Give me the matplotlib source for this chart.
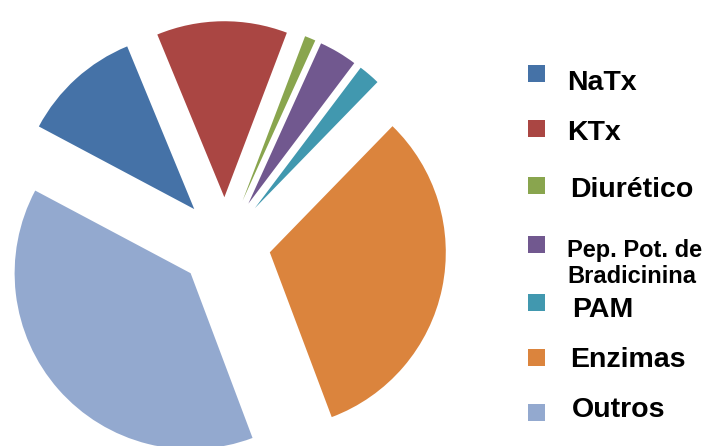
import matplotlib
matplotlib.use("Agg")
import matplotlib.pyplot as plt
from matplotlib.patches import Rectangle

# data (percent)
labels = ["NaTx", "KTx", "Diurético", "Pep. Pot. de\nBradicinina", "PAM", "Enzimas", "Outros"]
values = [11, 12, 1, 3.5, 2, 32, 38.5]
colors = ["#4572A7", "#AA4643", "#89A54E", "#71588F", "#4198AF", "#DB843D", "#93A9CF"]

W, H = 712, 446
fig = plt.figure(figsize=(W / 100, H / 100), dpi=100)
ax = fig.add_axes([0, 0, 1, 1])

ax.pie(values, colors=colors, startangle=152, counterclock=False,
       explode=[0.26] * len(values), radius=1.0,
       wedgeprops=dict(linewidth=0))

# place pie: centre at (225, 243) px from top-left, radius 176 px
cx, cy, r = 225, 243, 176
ax.set_aspect("auto")
ax.set_xlim(-cx / r, (W - cx) / r)
ax.set_ylim(-(H - cy) / r, cy / r)
ax.axis("off")

# legend drawn by hand (pixel positions from top-left)
sq_y = [73, 128, 185, 244, 302, 357, 412]
txt_x = [567, 567, 570, 567, 572, 570, 572]
txt_base = [90, 140, 197, 257, 317, 367, 417]
font = "Liberation Sans"
for i, lab in enumerate(labels):
    s = 17
    fig.patches.append(Rectangle(((536 - s / 2) / W, 1 - (sq_y[i] + s / 2) / H),
                                 s / W, s / H, transform=fig.transFigure,
                                 facecolor=colors[i], edgecolor="none"))
    if "\n" in lab:
        l1, l2 = lab.split("\n")
        fig.text(txt_x[i] / W, 1 - txt_base[i] / H, l1, fontsize=17,
                 fontweight="bold", family=font, va="baseline", ha="left")
        fig.text(txt_x[i] / W, 1 - 283 / H, l2, fontsize=17,
                 fontweight="bold", family=font, va="baseline", ha="left")
    else:
        fig.text(txt_x[i] / W, 1 - txt_base[i] / H, lab, fontsize=20.5,
                 fontweight="bold", family=font, va="baseline", ha="left")

fig.savefig("out.png", dpi=100)
